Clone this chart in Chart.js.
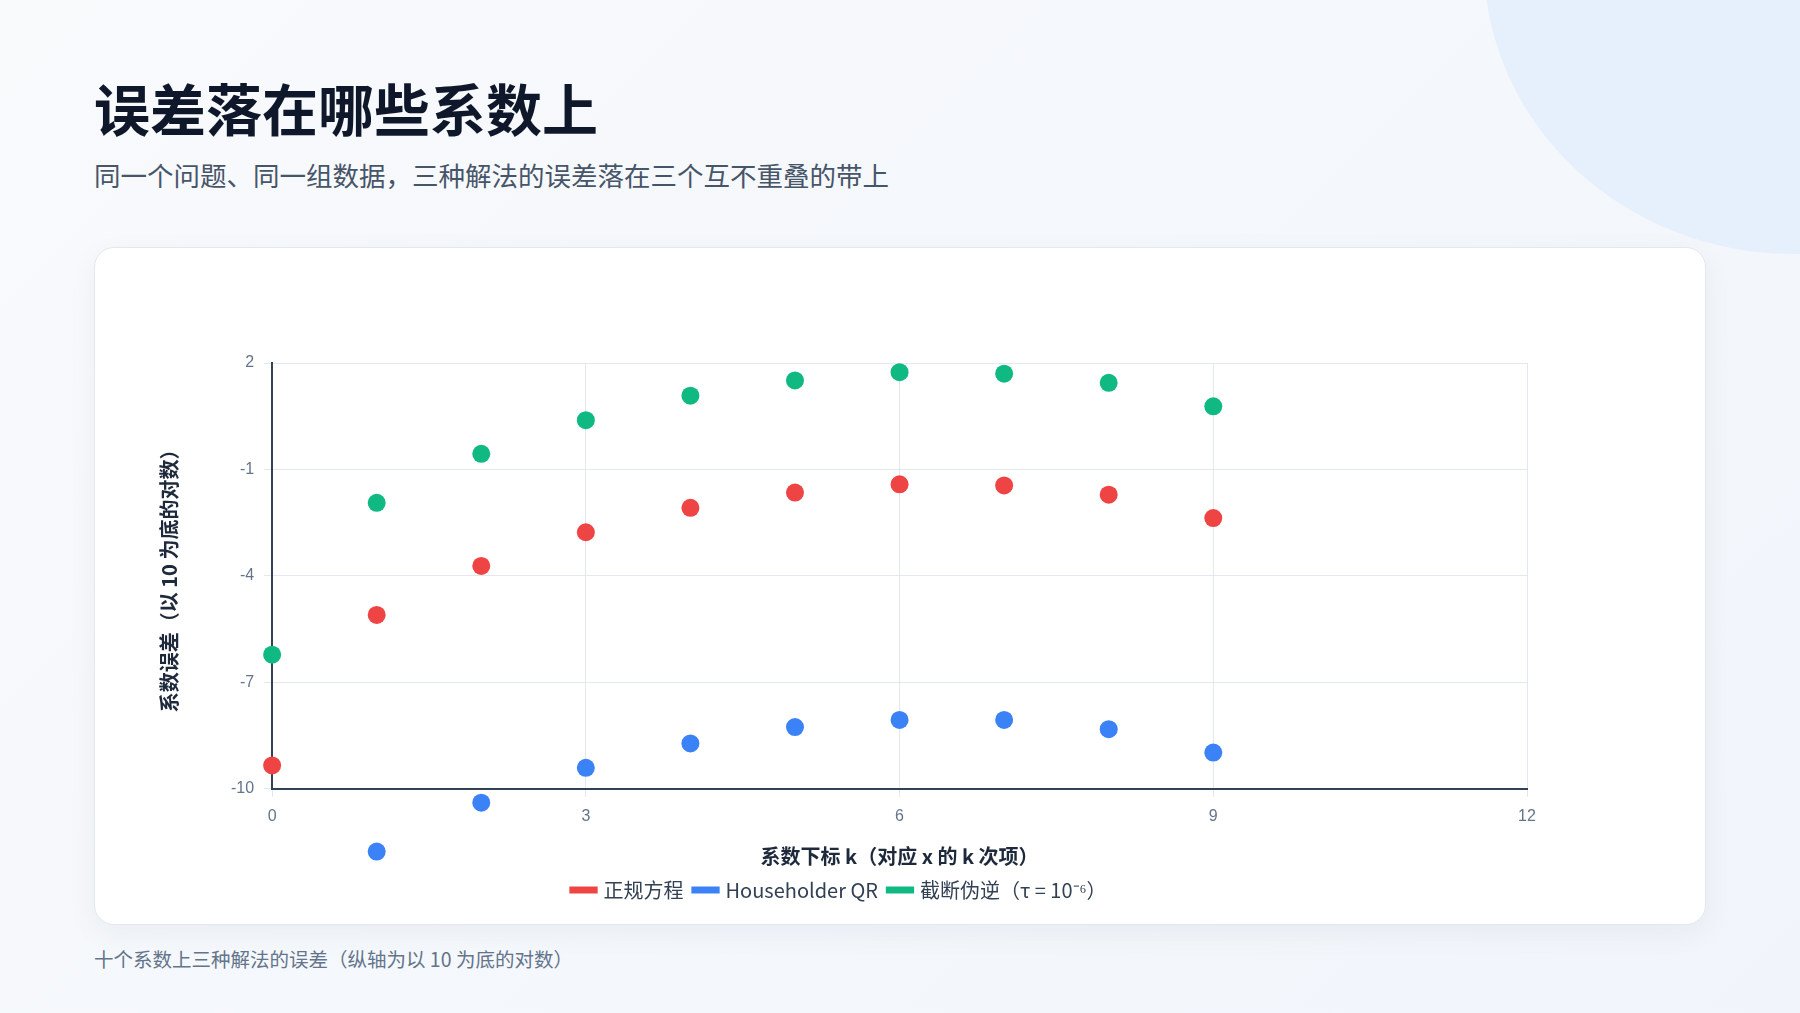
<!DOCTYPE html>
<html>
<head>
<meta charset="utf-8">
<script src="https://cdn.jsdelivr.net/npm/chart.js@4"></script>
<style>
  body { margin:0; width:1800px; height:1013px; overflow:hidden; position:relative;
    background:linear-gradient(135deg,#f8fafc 0%,#f1f5fb 100%);
    font-family:"Noto Sans CJK SC","Noto Sans",sans-serif; }
  .blob { position:absolute; left:1484px; top:-330px; width:620px; height:584px; border-radius:50%; background:#e6effc; }
  h1 { position:absolute; left:94px; top:66px; margin:0; font-size:56px; font-weight:700; color:#0f172a; }
  .sub { position:absolute; left:94px; top:155px; font-size:26.5px; color:#475569; }
  .card { position:absolute; left:94px; top:247px; width:1612px; height:678px; background:#fff;
    border:1px solid #e2e8f0; border-radius:20px; box-shadow:0 8px 30px rgba(15,23,42,0.05); box-sizing:border-box; }
  .wrap { position:absolute; left:20px; top:20px; right:20px; bottom:14px; }
  .cap { position:absolute; left:94px; top:944px; font-size:19.5px; color:#64748b; }
</style>
</head>
<body>
<div class="blob"></div>
<h1>误差落在哪些系数上</h1>
<div class="sub">同一个问题、同一组数据，三种解法的误差落在三个互不重叠的带上</div>
<div class="card"><div class="wrap"><canvas id="c"></canvas></div></div>
<div class="cap">十个系数上三种解法的误差（纵轴为以 10 为底的对数）</div>
<script>
var ks = [0, 1, 2, 3, 4, 5, 6, 7, 8, 9];
var normalEq = [-9.34, -5.10, -3.72, -2.77, -2.08, -1.65, -1.42, -1.45, -1.71, -2.37];
var householder = [null, -11.77, -10.39, -9.41, -8.72, -8.26, -8.06, -8.06, -8.32, -8.98];
var truncPinv = [-6.22, -1.94, -0.56, 0.39, 1.08, 1.51, 1.74, 1.70, 1.44, 0.78];
var yTicks = [-10, -7, -4, -1, 2];
var xTicks = [0, 3, 6, 9, 12];

function pts(vals) {
  return ks.map(function (k, i) { return { x: k, y: vals[i] }; });
}
function ds(label, vals, color) {
  return { label: label, data: pts(vals), backgroundColor: color, borderColor: color,
    pointRadius: 9, pointHoverRadius: 9, pointBorderWidth: 0, clip: false };
}

// Chart.js skips points outside the chart area, so draw those ourselves through the scales
var outsidePoints = {
  id: 'outsidePoints',
  afterDatasetsDraw: function (chart) {
    var ctx = chart.ctx, xs = chart.scales.x, ys = chart.scales.y;
    chart.data.datasets.forEach(function (d) {
      d.data.forEach(function (p) {
        if (p.y === null) return;
        if (p.y >= ys.min && p.y <= ys.max) return;
        ctx.save();
        ctx.fillStyle = d.backgroundColor;
        ctx.beginPath();
        ctx.arc(xs.getPixelForValue(p.x), ys.getPixelForValue(p.y), 9, 0, Math.PI * 2);
        ctx.fill();
        ctx.restore();
      });
    });
  }
};

new Chart(document.getElementById('c'), {
  type: 'scatter',
  data: { datasets: [
    ds('正规方程', normalEq, '#ef4444'),
    ds('Householder QR', householder, '#3b82f6'),
    ds('截断伪逆（τ = 10⁻⁶）', truncPinv, '#10b981')
  ] },
  options: {
    responsive: true, maintainAspectRatio: false, animation: false,
    layout: { padding: { top: 95, left: 38, right: 158, bottom: 0 } },
    plugins: {
      legend: { position: 'bottom',
        labels: { usePointStyle: true, pointStyle: 'line', boxWidth: 26, padding: 12,
          color: '#334155', font: { size: 20, family: 'Noto Sans CJK SC' },
          generateLabels: function (chart) {
            return chart.data.datasets.map(function (d, i) {
              return { text: d.label, fillStyle: d.backgroundColor, strokeStyle: d.backgroundColor,
                lineWidth: 7, pointStyle: 'line', datasetIndex: i, fontColor: '#334155' };
            });
          } } },
      tooltip: { enabled: false }
    },
    scales: {
      x: { type: 'linear', min: 0, max: 12,
        afterBuildTicks: function (a) { a.ticks = xTicks.map(function (v) { return { value: v }; }); },
        grid: { color: '#e2e8f0' }, border: { color: '#334155', width: 2 },
        ticks: { color: '#64748b', font: { size: 16 }, padding: 10 },
        title: { display: true, text: '系数下标 k（对应 x 的 k 次项）', color: '#1e293b',
          font: { size: 20, weight: 'bold', family: 'Noto Sans CJK SC' }, padding: { top: 8, bottom: 0 } } },
      y: { min: -10, max: 2,
        afterBuildTicks: function (a) { a.ticks = yTicks.map(function (v) { return { value: v }; }); },
        grid: { color: '#e2e8f0' }, border: { color: '#334155', width: 2 },
        ticks: { color: '#64748b', font: { size: 16 }, padding: 10 },
        title: { display: true, text: '系数误差（以 10 为底的对数）', color: '#1e293b',
          font: { size: 20, weight: 'bold', family: 'Noto Sans CJK SC' }, padding: { bottom: 40 } } }
    }
  },
  plugins: [outsidePoints]
});
</script>
</body>
</html>
